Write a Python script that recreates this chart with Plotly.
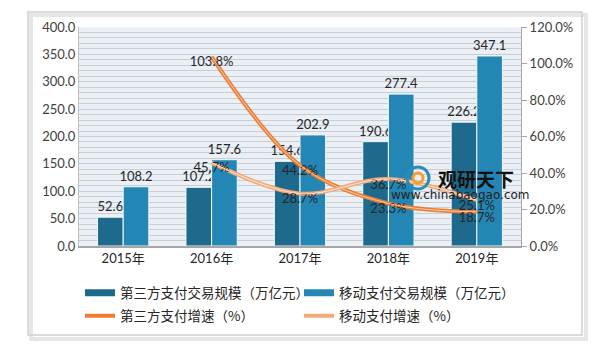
import plotly.graph_objects as go

years = ["2015年", "2016年", "2017年", "2018年", "2019年"]
third_party_scale = [52.6, 107.2, 154.6, 190.6, 226.2]
mobile_scale = [108.2, 157.6, 202.9, 277.4, 347.1]
growth_years = ["2016年", "2017年", "2018年", "2019年"]
third_party_growth = [103.8, 44.2, 23.3, 18.7]
mobile_growth = [45.7, 28.7, 36.7, 25.1]

FONT = "Lato, 'Noto Sans CJK SC', sans-serif"
CJK = "'Noto Sans CJK SC', sans-serif"
TXT = "#262626"
DARK_BLUE = "#1E6A8D"
LIGHT_BLUE = "#2486B5"

fig = go.Figure()
fig.add_trace(go.Bar(
    x=years, y=third_party_scale, name="第三方支付交易规模（万亿元）", showlegend=False,
    marker=dict(color=DARK_BLUE, line=dict(color="#F4F7FA", width=1)),
    text=[f"{v:.1f}" for v in third_party_scale], textposition="outside", constraintext="none",
    textfont=dict(size=13, color=TXT, family=FONT), cliponaxis=False,
))
fig.add_trace(go.Bar(
    x=years, y=mobile_scale, name="移动支付交易规模（万亿元）", showlegend=False,
    marker=dict(color=LIGHT_BLUE, line=dict(color="#F4F7FA", width=1)),
    text=[f"{v:.1f}" for v in mobile_scale], textposition="outside", constraintext="none",
    textfont=dict(size=13, color=TXT, family=FONT), cliponaxis=False,
))
# legend-only entries to show wide bar swatches
fig.add_trace(go.Scatter(x=[None], y=[None], mode="lines", name="第三方支付交易规模（万亿元）",
                         line=dict(color=DARK_BLUE, width=7), legend="legend", hoverinfo="skip"))
fig.add_trace(go.Scatter(x=[None], y=[None], mode="lines", name="移动支付交易规模（万亿元）",
                         line=dict(color=LIGHT_BLUE, width=7), legend="legend2", hoverinfo="skip"))
fig.add_trace(go.Scatter(
    x=growth_years, y=third_party_growth, name="第三方支付增速（%）", yaxis="y2", legend="legend3",
    mode="lines+text", line=dict(color="#ED7D31", width=4, shape="spline", smoothing=1),
    text=[f"{v:.1f}%" for v in third_party_growth], textposition="bottom center",
    textfont=dict(size=13, color=TXT, family=FONT), cliponaxis=False,
))
fig.add_trace(go.Scatter(
    x=growth_years, y=third_party_growth, yaxis="y2", showlegend=False, hoverinfo="skip",
    mode="lines", line=dict(color="#F8CBAD", width=1, shape="spline", smoothing=1),
))
fig.add_trace(go.Scatter(
    x=growth_years, y=mobile_growth, name="移动支付增速（%）", yaxis="y2", legend="legend4",
    mode="lines+text", line=dict(color="#F4A97A", width=4, shape="spline", smoothing=1),
    text=[f"{v:.1f}%" for v in mobile_growth], textposition="bottom center",
    textfont=dict(size=13, color=TXT, family=FONT), cliponaxis=False,
))
fig.add_trace(go.Scatter(
    x=growth_years, y=mobile_growth, yaxis="y2", showlegend=False, hoverinfo="skip",
    mode="lines", line=dict(color="#FCE4D6", width=1, shape="spline", smoothing=1),
))

W, H = 608, 356
L, R, T, B = 79, 87, 27, 110
pw, ph = W - L - R, H - T - B


def px(x):
    return (x - L) / pw


def py(y):
    return (H - B - y) / ph


shapes = [
    dict(type="rect", xref="paper", yref="paper", x0=px(31), x1=px(586), y0=py(339), y1=py(15),
         line=dict(color="#E6E6E6", width=4), layer="below"),
    dict(type="rect", xref="paper", yref="paper", x0=px(28), x1=px(582), y0=py(335), y1=py(12),
         line=dict(color="#CFCFCF", width=1.5), layer="below"),
    dict(type="circle", xref="paper", yref="paper", x0=px(407), x1=px(429), y0=py(189), y1=py(167),
         line=dict(color="#2A8CB8", width=3)),
    dict(type="circle", xref="paper", yref="paper", x0=px(413), x1=px(423), y0=py(183), y1=py(173),
         line=dict(color="#F0A030", width=3)),
]

annotations = [
    dict(text="<b>观研天下</b>", xref="paper", yref="paper", x=px(476), y=py(178),
         xanchor="center", yanchor="middle",
         showarrow=False, font=dict(size=19, color="#111111", family=CJK)),
    dict(text="www.chinabaogao.com", xref="paper", yref="paper", x=px(460), y=py(195),
         xanchor="center", yanchor="middle",
         showarrow=False, font=dict(size=12, color="#222222", family="'DejaVu Sans', sans-serif")),
]

leg_common = dict(orientation="h", xanchor="left", yanchor="middle", bgcolor="rgba(0,0,0,0)",
                  itemwidth=30, font=dict(size=13.5, color=TXT, family=CJK))

fig.update_layout(
    width=W, height=H,
    margin=dict(l=L, r=R, t=T, b=B, autoexpand=False),
    paper_bgcolor="white", plot_bgcolor="#EAF0F6",
    barmode="group", bargap=0.42, bargroupgap=0.0,
    font=dict(family=FONT, color="#404040", size=13),
    xaxis=dict(showline=True, linecolor="#A6A6A6", linewidth=1.5, tickfont=dict(size=13, color=TXT, family=FONT),
               ticks="", showgrid=False, mirror=False),
    yaxis=dict(range=[0, 400], dtick=50, tickformat=".1f", showgrid=True, gridcolor="#C8CDD4",
               gridwidth=1, minor=dict(dtick=10, showgrid=True, gridcolor="#C8CDD4", gridwidth=1),
               showline=True, linecolor="#BFBFBF", ticks="", tickfont=dict(size=13, color="#404040"),
               zeroline=False),
    yaxis2=dict(range=[0, 120], dtick=20, tickformat=".1f", ticksuffix="%", overlaying="y", side="right",
                showgrid=False, showline=True, linecolor="#A6A6A6", ticks="outside", ticklen=5,
                tickcolor="#A6A6A6", tickfont=dict(size=13, color="#404040"), zeroline=False),
    legend=dict(x=px(80), y=py(293), **leg_common),
    legend2=dict(x=px(299), y=py(293), **leg_common),
    legend3=dict(x=px(80), y=py(316), **leg_common),
    legend4=dict(x=px(299), y=py(316), **leg_common),
    shapes=shapes, annotations=annotations, showlegend=True,
)

fig.write_html("out.html", post_script="document.body.style.margin='0px';",
               config={"displayModeBar": False})
